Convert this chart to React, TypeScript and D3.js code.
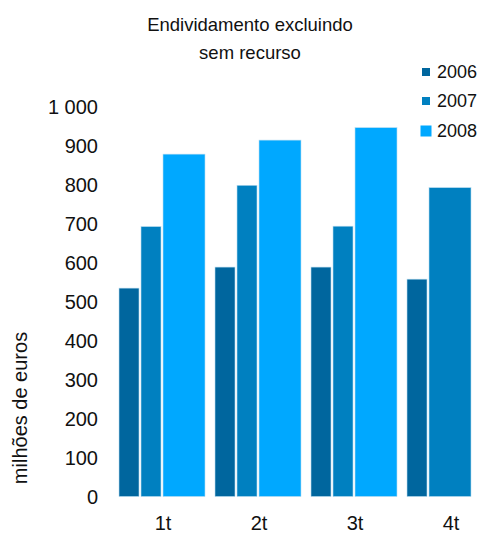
import { useEffect, useRef } from 'react';
import { scaleBand, scaleLinear, select } from 'd3';

const quarters = ['1t', '2t', '3t', '4t'];
const years = ['2006', '2007', '2008'];
const values2006 = [535, 589, 589, 558];
const values2007 = [693, 799, 694, 793];
const values2008 = [879, 915, 947, null];
const yTicks = [0, 100, 200, 300, 400, 500, 600, 700, 800, 900, 1000];
const titleLines = ['Endividamento excluindo', 'sem recurso'];
const yTitle = 'milhões de euros';

const colors = ['#00669e', '#0080c0', '#00a8ff'];
const font = 'Liberation Sans, Arial, sans-serif';

export default function App() {
  const svgRef = useRef<SVGSVGElement>(null);

  useEffect(() => {
    if (!svgRef.current) return;
    document.body.style.margin = '0';

    const svg = select(svgRef.current);
    svg.selectAll('*').remove();

    const width = 481;
    const height = 535;

    const x0 = scaleBand().domain(quarters).range([115, 115 + 96 * 4]);
    // 4 slots per quarter: the last bar of a group takes the spare slot too
    const x1 = scaleBand().domain([...years, 'spare']).range([4, 92]);
    const y = scaleLinear().domain([0, 1000]).range([496.5, 107]);

    // title
    svg.append('text')
      .attr('x', 250)
      .attr('y', 31)
      .attr('text-anchor', 'middle')
      .attr('font-family', font)
      .attr('font-size', 18.5)
      .attr('fill', '#111')
      .selectAll('tspan')
      .data(titleLines)
      .join('tspan')
      .attr('x', 250)
      .attr('dy', (d, i) => (i === 0 ? 0 : 28))
      .text((d) => d);

    // y tick labels
    svg.append('g')
      .selectAll('text')
      .data(yTicks)
      .join('text')
      .attr('x', 98)
      .attr('y', (d) => y(d))
      .attr('dy', '0.35em')
      .attr('text-anchor', 'end')
      .attr('font-family', font)
      .attr('font-size', 20)
      .attr('fill', '#111')
      .text((d) => (d >= 1000 ? '1 000' : String(d)));

    // y title
    svg.append('text')
      .attr('transform', `translate(27,408) rotate(-90)`)
      .attr('text-anchor', 'middle')
      .attr('font-family', font)
      .attr('font-size', 20)
      .attr('fill', '#111')
      .text(yTitle);

    // bars
    const series = [values2006, values2007, values2008];
    quarters.forEach((q, qi) => {
      const present = series.map((s) => s[qi]).filter((v) => v != null);
      series.forEach((s, si) => {
        const v = s[qi];
        if (v == null) return;
        const isLast = si === present.length - 1;
        const bx = (x0(q) ?? 0) + (x1(years[si]) ?? 0);
        const bw = x1.bandwidth() * (isLast ? 2 : 1) - 2;
        svg.append('rect')
          .attr('x', bx)
          .attr('y', y(v))
          .attr('width', bw)
          .attr('height', y(0) - y(v))
          .attr('fill', colors[si])
          .attr('stroke', '#b8dcf0')
          .attr('stroke-width', 0.6);
      });
    });

    // x labels
    svg.append('g')
      .selectAll('text')
      .data(quarters)
      .join('text')
      .attr('x', (d) => (x0(d) ?? 0) + 48)
      .attr('y', 530)
      .attr('text-anchor', 'middle')
      .attr('font-family', font)
      .attr('font-size', 20)
      .attr('fill', '#111')
      .text((d) => d);

    // legend
    const legend = svg.append('g');
    years.forEach((yr, i) => {
      const cy = 72 + i * 29;
      const sz = i === 2 ? 11 : 8;
      legend.append('rect')
        .attr('x', 426 - sz / 2)
        .attr('y', cy - sz / 2 + (i === 2 ? 1 : 0))
        .attr('width', sz)
        .attr('height', sz)
        .attr('fill', colors[i]);
      legend.append('text')
        .attr('x', 437)
        .attr('y', cy + (i === 2 ? 1 : 0))
        .attr('dy', '0.35em')
        .attr('font-family', font)
        .attr('font-size', 18)
        .attr('fill', '#111')
        .text(yr);
    });

    svg.attr('width', width).attr('height', height);
  }, []);

  return (
    <svg
      ref={svgRef}
      width={481}
      height={535}
      style={{ position: 'absolute', left: 0, top: 0, background: '#fff' }}
    />
  );
}
